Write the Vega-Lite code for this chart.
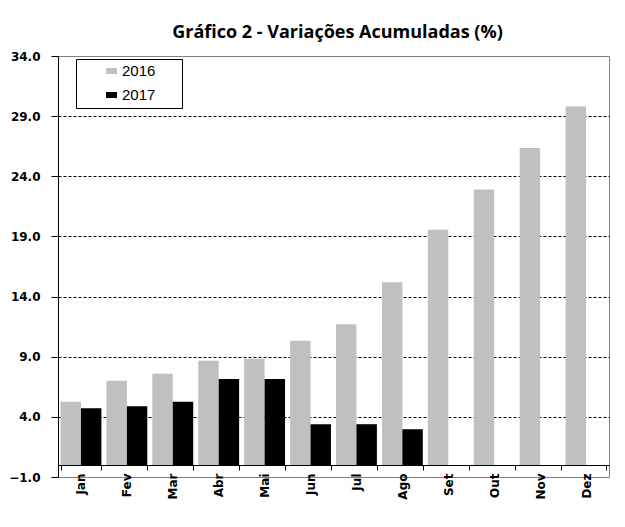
{
  "$schema": "https://vega.github.io/schema/vega-lite/v6.json",
  "autosize": {"type": "none"},
  "padding": {"left": 58, "top": 56, "right": 16, "bottom": 50},
  "width": 551,
  "height": 421,
  "background": "white",
  "title": {
    "text": "Gráfico 2 - Variações Acumuladas (%)",
    "font": "Open Sans",
    "fontSize": 18,
    "fontWeight": "bold",
    "color": "#000000",
    "anchor": "middle",
    "offset": 8,
    "dx": 4
  },
  "data": {
    "values": [
      {"mes": "Jan", "ano": "2016", "valor": 5.25},
      {"mes": "Jan", "ano": "2017", "valor": 4.72},
      {"mes": "Fev", "ano": "2016", "valor": 7.0},
      {"mes": "Fev", "ano": "2017", "valor": 4.89},
      {"mes": "Mar", "ano": "2016", "valor": 7.58},
      {"mes": "Mar", "ano": "2017", "valor": 5.25},
      {"mes": "Abr", "ano": "2016", "valor": 8.67},
      {"mes": "Abr", "ano": "2017", "valor": 7.14},
      {"mes": "Mai", "ano": "2016", "valor": 8.83},
      {"mes": "Mai", "ano": "2017", "valor": 7.14},
      {"mes": "Jun", "ano": "2016", "valor": 10.33},
      {"mes": "Jun", "ano": "2017", "valor": 3.39},
      {"mes": "Jul", "ano": "2016", "valor": 11.69},
      {"mes": "Jul", "ano": "2017", "valor": 3.39},
      {"mes": "Ago", "ano": "2016", "valor": 15.19},
      {"mes": "Ago", "ano": "2017", "valor": 2.97},
      {"mes": "Set", "ano": "2016", "valor": 19.56},
      {"mes": "Out", "ano": "2016", "valor": 22.9},
      {"mes": "Nov", "ano": "2016", "valor": 26.36},
      {"mes": "Dez", "ano": "2016", "valor": 29.8}
    ]
  },
  "mark": {"type": "bar"},
  "encoding": {
    "x": {
      "field": "mes",
      "type": "ordinal",
      "sort": ["Jan", "Fev", "Mar", "Abr", "Mai", "Jun", "Jul", "Ago", "Set", "Out", "Nov", "Dez"],
      "scale": {"paddingInner": 0.11, "paddingOuter": 0.055},
      "axis": {
        "title": null,
        "orient": "bottom",
        "offset": -12,
        "domainColor": "#000000",
        "domainWidth": 1,
        "tickColor": "#000000",
        "tickSize": 5,
        "tickBand": "extent",
        "labelAngle": -90,
        "labelFont": "DejaVu Sans",
        "labelFontWeight": "bold",
        "labelFontSize": 12,
        "labelColor": "#000000",
        "labelPadding": 3
      }
    },
    "xOffset": {
      "field": "ano",
      "type": "nominal",
      "scale": {"paddingInner": 0, "paddingOuter": 0}
    },
    "y": {
      "field": "valor",
      "type": "quantitative",
      "scale": {"domain": [-1, 34], "nice": false, "zero": false},
      "axis": {
        "title": null,
        "values": [-1, 4, 9, 14, 19, 24, 29, 34],
        "format": ".1f",
        "domainColor": "#000000",
        "domainWidth": 1,
        "tickColor": "#000000",
        "tickSize": 7,
        "labelPadding": 11,
        "labelFont": "DejaVu Sans",
        "labelFontWeight": "bold",
        "labelFontSize": 12,
        "labelColor": "#000000",
        "grid": true,
        "gridColor": "#000000",
        "gridDash": [3, 2],
        "gridWidth": 1,
        "gridOpacity": {"condition": {"test": "datum.value == -1 || datum.value == 34", "value": 0}, "value": 1}
      }
    },
    "y2": {"datum": 0},
    "color": {
      "field": "ano",
      "type": "nominal",
      "scale": {"domain": ["2016", "2017"], "range": ["#C0C0C0", "#000000"]},
      "legend": {
        "title": null,
        "orient": "none",
        "legendX": 18,
        "legendY": 3,
        "padding": 4.5,
        "strokeColor": "#000000",
        "fillColor": "#ffffff",
        "symbolType": "M-1,-0.55H1V0.55H-1Z",
        "symbolSize": 121,
        "symbolStrokeWidth": 0,
        "symbolOffset": 23.5,
        "labelOffset": 3,
        "labelFont": "Liberation Sans",
        "labelFontSize": 15,
        "labelColor": "#000000",
        "rowPadding": 8,
        "labelExpr": "datum.label + '\u2800\u2800'"
      }
    }
  },
  "config": {
    "view": {"stroke": "#808080", "strokeWidth": 1}
  }
}
